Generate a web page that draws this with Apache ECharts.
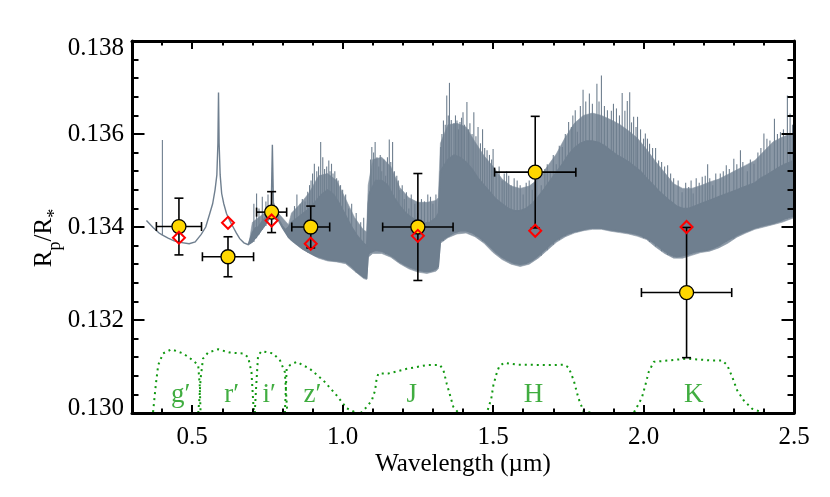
<!DOCTYPE html>
<html><head><meta charset="utf-8">
<script src="https://cdn.jsdelivr.net/npm/echarts@6/dist/echarts.min.js"></script>
<style>html,body{margin:0;padding:0;background:#fff}#c{width:830px;height:497px}</style>
</head><body><div id="c"></div>
<script>
// ---------- tick values ----------
const xMajorTicks = [0.5, 1.0, 1.5, 2.0, 2.5];
const yMajorTicks = [0.130, 0.132, 0.134, 0.136, 0.138];

// ---------- observed transit depths ----------
const obsX    = [0.456, 0.619, 0.764, 0.894, 1.250, 1.640, 2.143];
const obsY    = [0.13401, 0.13336, 0.13432, 0.13400, 0.13400, 0.13518, 0.13259];
const obsXErr = [0.075, 0.085, 0.050, 0.063, 0.117, 0.135, 0.150];
const obsYErr = [0.00061, 0.00043, 0.00044, 0.00045, 0.00115, 0.00120, 0.00140];
// ---------- band-averaged model ----------
const modelY  = [0.13377, 0.13409, 0.13414, 0.13364, 0.13381, 0.13392, 0.13400];

// ---------- model spectrum dense core: [wavelength, lower, upper] ----------
const specBand = [
 [0.348,0.13414,0.13414],[0.37,0.13399,0.13399],[0.39,0.13387,0.13387],[0.40,0.13383,0.13383],
 [0.42,0.13376,0.13376],[0.44,0.13370,0.13370],[0.46,0.13367,0.13367],[0.49,0.13364,0.13364],
 [0.51,0.13368,0.13368],[0.53,0.13384,0.13384],[0.545,0.13400,0.13400],[0.558,0.13428,0.13428],
 [0.568,0.13450,0.13450],[0.576,0.13480,0.13480],[0.582,0.13512,0.13512],[0.5855,0.13580,0.13580],
 [0.5875,0.13689,0.13689],[0.5895,0.13580,0.13580],[0.593,0.13512,0.13512],[0.598,0.13472,0.13472],
 [0.605,0.13450,0.13450],[0.614,0.13429,0.13429],[0.625,0.13413,0.13413],[0.636,0.13400,0.13400],
 [0.647,0.13387,0.13387],[0.658,0.13375,0.13375],[0.672,0.13366,0.13366],[0.686,0.13362,0.13362],
 [0.70,0.13368,0.13388],[0.71,0.13376,0.13398],[0.72,0.13384,0.13400],[0.73,0.13394,0.13410],
 [0.74,0.13402,0.13418],[0.75,0.13412,0.13426],[0.76,0.13425,0.13438],[0.763,0.13440,0.13452],
 [0.7665,0.13577,0.13577],[0.770,0.13445,0.13452],[0.78,0.13424,0.13430],[0.79,0.13410,0.13414],
 [0.80,0.13398,0.13402],[0.81,0.13388,0.13394],[0.82,0.13378,0.13400],[0.83,0.13372,0.13410],
 [0.85,0.13362,0.13420],[0.87,0.13352,0.13430],[0.89,0.13345,0.13440],[0.91,0.13338,0.13455],
 [0.93,0.13334,0.13470],[0.95,0.13330,0.13480],[0.97,0.13328,0.13470],[0.99,0.13327,0.13450],
 [1.01,0.13325,0.13425],[1.03,0.13315,0.13400],[1.05,0.13302,0.13380],[1.07,0.13292,0.13365],
 [1.08,0.13290,0.13360],[1.085,0.13340,0.13450],[1.09,0.13345,0.13475],[1.11,0.13350,0.13500],
 [1.13,0.13348,0.13500],[1.15,0.13342,0.13490],[1.17,0.13335,0.13465],[1.19,0.13325,0.13445],
 [1.21,0.13318,0.13430],[1.23,0.13312,0.13420],[1.25,0.13308,0.13412],[1.27,0.13305,0.13408],
 [1.29,0.13305,0.13410],[1.31,0.13310,0.13420],[1.318,0.13315,0.13430],[1.325,0.13370,0.13520],
 [1.35,0.13380,0.13545],[1.37,0.13388,0.13555],[1.39,0.13392,0.13550],[1.41,0.13392,0.13540],
 [1.43,0.13388,0.13525],[1.45,0.13380,0.13505],[1.47,0.13370,0.13490],[1.49,0.13358,0.13475],
 [1.51,0.13345,0.13460],[1.53,0.13335,0.13450],[1.55,0.13328,0.13440],[1.57,0.13322,0.13435],
 [1.59,0.13320,0.13435],[1.61,0.13322,0.13440],[1.63,0.13328,0.13450],[1.65,0.13338,0.13465],
 [1.67,0.13350,0.13482],[1.69,0.13362,0.13500],[1.71,0.13372,0.13518],[1.73,0.13380,0.13535],
 [1.75,0.13386,0.13555],[1.77,0.13390,0.13570],[1.79,0.13393,0.13580],[1.81,0.13396,0.13585],
 [1.83,0.13398,0.13585],[1.85,0.13398,0.13582],[1.87,0.13396,0.13575],[1.89,0.13394,0.13565],
 [1.91,0.13392,0.13555],[1.93,0.13390,0.13548],[1.95,0.13388,0.13540],[1.97,0.13386,0.13530],
 [1.99,0.13382,0.13520],[2.01,0.13376,0.13505],[2.03,0.13368,0.13492],[2.05,0.13358,0.13478],
 [2.07,0.13348,0.13466],[2.09,0.13340,0.13455],[2.11,0.13336,0.13445],[2.13,0.13338,0.13440],
 [2.15,0.13342,0.13440],[2.17,0.13346,0.13445],[2.19,0.13348,0.13450],[2.21,0.13350,0.13455],
 [2.23,0.13354,0.13460],[2.25,0.13360,0.13465],[2.27,0.13368,0.13470],[2.29,0.13375,0.13475],
 [2.31,0.13382,0.13480],[2.33,0.13388,0.13485],[2.35,0.13393,0.13490],[2.37,0.13398,0.13495],
 [2.39,0.13402,0.13505],[2.41,0.13405,0.13512],[2.43,0.13408,0.13520],[2.45,0.13412,0.13528],
 [2.47,0.13418,0.13535],[2.49,0.13422,0.13540],[2.50,0.13425,0.13545]
];
// ---------- fringe of thinner lines around the core: [wavelength, lower, upper] ----------
const specHaze = [
 [0.69,0.13365,0.13370],[0.70,0.13369,0.13410],[0.72,0.13383,0.13420],[0.74,0.13401,0.13430],
 [0.76,0.13425,0.13443],[0.763,0.13440,0.13450],[0.775,0.13435,0.13438],[0.82,0.13377,0.13405],
 [0.83,0.13370,0.13430],[0.86,0.13355,0.13450],[0.89,0.13343,0.13475],[0.92,0.13333,0.13510],
 [0.95,0.13327,0.13515],[0.98,0.13325,0.13500],[1.01,0.13321,0.13460],[1.04,0.13305,0.13420],
 [1.07,0.13289,0.13393],[1.08,0.13287,0.13390],[1.085,0.13335,0.13490],[1.10,0.13343,0.13545],
 [1.13,0.13343,0.13550],[1.16,0.13335,0.13530],[1.19,0.13321,0.13485],[1.22,0.13310,0.13463],
 [1.25,0.13303,0.13453],[1.28,0.13300,0.13453],[1.31,0.13305,0.13457],[1.318,0.13310,0.13463],
 [1.325,0.13365,0.13580],[1.35,0.13377,0.13620],[1.38,0.13385,0.13623],[1.41,0.13387,0.13615],
 [1.44,0.13379,0.13583],[1.47,0.13365,0.13553],[1.50,0.13345,0.13530],[1.53,0.13330,0.13503],
 [1.56,0.13320,0.13488],[1.59,0.13315,0.13483],[1.62,0.13320,0.13488],[1.65,0.13333,0.13503],
 [1.68,0.13350,0.13530],[1.71,0.13367,0.13557],[1.74,0.13379,0.13593],[1.77,0.13387,0.13623],
 [1.80,0.13392,0.13640],[1.83,0.13395,0.13645],[1.86,0.13395,0.13640],[1.89,0.13391,0.13631],
 [1.92,0.13388,0.13621],[1.95,0.13385,0.13607],[1.98,0.13380,0.13591],[2.01,0.13373,0.13567],
 [2.04,0.13357,0.13541],[2.07,0.13343,0.13517],[2.10,0.13333,0.13493],[2.13,0.13333,0.13483],
 [2.16,0.13339,0.13483],[2.19,0.13345,0.13489],[2.22,0.13348,0.13497],[2.25,0.13355,0.13503],
 [2.28,0.13365,0.13513],[2.31,0.13378,0.13523],[2.34,0.13387,0.13533],[2.37,0.13395,0.13543],
 [2.40,0.13400,0.13563],[2.43,0.13405,0.13583],[2.46,0.13410,0.13593],[2.50,0.13420,0.13603]
];
// ---------- individual spectral lines: [wavelength, peak] ----------
const specSpikes = [
 [0.401,0.13587],[0.705,0.13450],[0.714,0.13472],[0.722,0.13440],[0.733,0.13465],[0.745,0.13455],
 [0.752,0.13470],[0.840,0.13445],[0.848,0.13470],[0.859,0.13450],[0.866,0.13460],[0.875,0.13455],
 [0.884,0.13476],[0.890,0.13490],[0.895,0.13500],[0.900,0.13515],[0.906,0.13536],[0.914,0.13520],
 [0.920,0.13530],[0.927,0.13583],[0.934,0.13550],[0.940,0.13525],[0.947,0.13530],[0.954,0.13543],
 [0.958,0.13520],[0.963,0.13536],[0.968,0.13515],[0.974,0.13520],[0.980,0.13505],[0.985,0.13500],
 [0.993,0.13490],[1.000,0.13480],[1.010,0.13470],[1.020,0.13440],[1.030,0.13450],[1.045,0.13430],
 [1.060,0.13410],[1.070,0.13420],[1.088,0.13470],[1.093,0.13545],[1.097,0.13572],[1.103,0.13560],
 [1.108,0.13583],[1.114,0.13550],[1.120,0.13530],[1.125,0.13555],[1.130,0.13520],[1.137,0.13545],
 [1.143,0.13510],[1.149,0.13550],[1.155,0.13588],[1.160,0.13540],[1.166,0.13583],[1.172,0.13520],
 [1.180,0.13510],[1.185,0.13500],[1.190,0.13480],[1.198,0.13490],[1.205,0.13460],[1.212,0.13475],
 [1.220,0.13440],[1.228,0.13470],[1.240,0.13450],[1.250,0.13430],[1.262,0.13460],[1.272,0.13455],
 [1.283,0.13470],[1.292,0.13465],[1.300,0.13450],[1.310,0.13470],[1.326,0.13572],[1.330,0.13600],
 [1.335,0.13629],[1.341,0.13620],[1.346,0.13683],[1.351,0.13640],[1.355,0.13710],[1.361,0.13630],
 [1.370,0.13623],[1.375,0.13640],[1.380,0.13629],[1.385,0.13610],[1.390,0.13626],[1.395,0.13635],
 [1.400,0.13647],[1.405,0.13620],[1.413,0.13669],[1.418,0.13610],[1.423,0.13623],[1.430,0.13600],
 [1.436,0.13647],[1.443,0.13595],[1.450,0.13615],[1.458,0.13580],[1.465,0.13610],[1.472,0.13570],
 [1.480,0.13565],[1.488,0.13555],[1.495,0.13545],[1.500,0.13568],[1.510,0.13520],[1.520,0.13530],
 [1.530,0.13500],[1.537,0.13515],[1.545,0.13520],[1.552,0.13510],[1.560,0.13490],[1.570,0.13505],
 [1.580,0.13500],[1.590,0.13490],[1.600,0.13470],[1.610,0.13495],[1.620,0.13500],[1.630,0.13480],
 [1.645,0.13505],[1.660,0.13490],[1.672,0.13525],[1.680,0.13535],[1.690,0.13520],[1.700,0.13555],
 [1.710,0.13535],[1.720,0.13575],[1.730,0.13572],[1.740,0.13600],[1.751,0.13626],[1.760,0.13615],
 [1.765,0.13640],[1.773,0.13651],[1.780,0.13605],[1.790,0.13660],[1.799,0.13695],[1.808,0.13670],
 [1.820,0.13687],[1.830,0.13665],[1.845,0.13708],[1.852,0.13670],[1.860,0.13726],[1.870,0.13660],
 [1.880,0.13651],[1.893,0.13650],[1.900,0.13665],[1.910,0.13655],[1.920,0.13640],[1.929,0.13688],
 [1.938,0.13650],[1.946,0.13671],[1.954,0.13690],[1.960,0.13625],[1.967,0.13637],[1.975,0.13615],
 [1.980,0.13637],[1.990,0.13610],[2.000,0.13590],[2.006,0.13601],[2.013,0.13590],[2.020,0.13579],
 [2.030,0.13570],[2.040,0.13570],[2.050,0.13543],[2.060,0.13540],[2.070,0.13530],[2.080,0.13533],
 [2.090,0.13515],[2.100,0.13505],[2.115,0.13500],[2.128,0.13475],[2.140,0.13495],[2.150,0.13486],
 [2.158,0.13500],[2.165,0.13472],[2.175,0.13505],[2.185,0.13495],[2.195,0.13508],[2.205,0.13510],
 [2.213,0.13535],[2.220,0.13505],[2.230,0.13490],[2.240,0.13515],[2.255,0.13515],[2.265,0.13520],
 [2.275,0.13533],[2.285,0.13525],[2.300,0.13547],[2.310,0.13535],[2.322,0.13565],[2.330,0.13540],
 [2.345,0.13520],[2.355,0.13545],[2.367,0.13536],[2.380,0.13560],[2.390,0.13570],[2.400,0.13601],
 [2.410,0.13590],[2.420,0.13586],[2.435,0.13633],[2.445,0.13600],[2.455,0.13604],[2.465,0.13610],
 [2.478,0.13683],[2.487,0.13644],[2.495,0.13620]
];

// ---------- filter transmission curves (scaled): [wavelength, value] ----------
const filterG = [[0.370,0.13002],[0.379,0.13060],[0.387,0.13103],[0.403,0.13128],[0.431,0.13137],[0.470,0.13128],[0.503,0.13113],[0.520,0.13103],[0.525,0.13060],[0.528,0.13000]];
const filterR = [[0.520,0.13000],[0.524,0.13030],[0.528,0.13074],[0.536,0.13117],[0.553,0.13130],[0.586,0.13137],[0.625,0.13130],[0.669,0.13128],[0.686,0.13120],[0.697,0.13088],[0.705,0.13000]];
const filterI = [[0.708,0.13000],[0.712,0.13050],[0.719,0.13124],[0.731,0.13133],[0.769,0.13128],[0.792,0.13113],[0.808,0.13088],[0.816,0.13000]];
const filterZ = [[0.808,0.13000],[0.814,0.13095],[0.825,0.13103],[0.847,0.13110],[0.891,0.13095],[0.936,0.13070],[0.980,0.13038],[1.014,0.13010],[1.047,0.13000],[1.060,0.13000]];
const filterJ = [[1.060,0.13000],[1.080,0.13013],[1.097,0.13027],[1.108,0.13049],[1.113,0.13074],[1.119,0.13085],[1.152,0.13085],[1.213,0.13095],[1.280,0.13103],[1.324,0.13103],[1.335,0.13092],[1.346,0.13063],[1.357,0.13038],[1.368,0.13013],[1.385,0.13000],[1.450,0.13000]];
const filterH = [[1.450,0.13000],[1.479,0.13000],[1.494,0.13031],[1.501,0.13060],[1.513,0.13088],[1.521,0.13101],[1.537,0.13108],[1.579,0.13104],[1.690,0.13103],[1.734,0.13104],[1.751,0.13098],[1.768,0.13070],[1.784,0.13031],[1.801,0.13003],[1.834,0.13000],[1.950,0.13000]];
const filterK = [[1.950,0.13000],[1.967,0.13000],[1.984,0.13020],[1.995,0.13034],[2.006,0.13060],[2.017,0.13088],[2.034,0.13110],[2.067,0.13112],[2.145,0.13117],[2.223,0.13113],[2.261,0.13113],[2.278,0.13103],[2.295,0.13077],[2.311,0.13049],[2.333,0.13027],[2.361,0.13009],[2.400,0.13000],[2.500,0.13000]];
const filterNames  = ['g\u2032', 'r\u2032', 'i\u2032', 'z\u2032', 'J', 'H', 'K'];
const filterLabelX = [0.462, 0.631, 0.756, 0.900, 1.230, 1.634, 2.167];
const filterLabelY = [0.13039, 0.13039, 0.13039, 0.13039, 0.13039, 0.13039, 0.13039];

// ---------- styling ----------
const FONT = 'Liberation Serif';
const SPEC = '#6f7f8f';
const HAZE = '#8a97a5';
const GREEN = '#109810';
const AX = { color: '#000', width: 3 };

const chart = echarts.init(document.getElementById('c'), null, { renderer: 'canvas' });

function xAxisCfg(pos, major) {
  const base = {
    type: 'value', min: 0.3, max: 2.5, position: pos, gridIndex: 0, z: 10,
    splitLine: { show: false }, minorSplitLine: { show: false }
  };
  if (major) {
    return Object.assign(base, {
      axisLine: { show: true, onZero: false, lineStyle: AX },
      axisTick: { show: true, inside: true, length: 8, lineStyle: { color: '#000', width: 2 }, customValues: xMajorTicks },
      axisLabel: pos === 'bottom'
        ? { show: true, customValues: xMajorTicks, formatter: v => v.toFixed(1), fontFamily: FONT, fontSize: 25, color: '#000', margin: 12 }
        : { show: false },
      name: pos === 'bottom' ? 'Wavelength (\u00b5m)' : '',
      nameLocation: 'middle', nameGap: 39, nameMoveOverlap: false,
      nameTextStyle: { fontFamily: FONT, fontSize: 25, color: '#000' }
    });
  }
  return Object.assign(base, {
    interval: 0.1,
    axisLine: { show: false, onZero: false },
    axisTick: { show: true, inside: true, length: 4.5, lineStyle: { color: '#000', width: 2 } },
    axisLabel: { show: false }
  });
}
function yAxisCfg(pos) {
  const left = pos === 'left';
  return {
    type: 'value', min: 0.130, max: 0.138, interval: 0.002, position: pos, z: 10,
    splitLine: { show: false }, minorSplitLine: { show: false },
    axisLine: { show: true, onZero: false, lineStyle: AX },
    axisTick: { show: true, inside: true, length: 12.5, lineStyle: { color: '#000', width: 2 } },
    minorTick: { show: true, splitNumber: 5, length: 6.5, lineStyle: { color: '#000', width: 2 } },
    axisLabel: left ? {
      show: true, margin: 8, fontFamily: FONT, fontSize: 25, color: '#000',
      formatter: v => {
        const s = v.toFixed(3);
        if (Math.abs(v - yMajorTicks[4]) < 1e-9) return '{t|' + s + '}';
        if (Math.abs(v - yMajorTicks[0]) < 1e-9) return '{b|' + s + '}';
        return s;
      },
      rich: {
        t: { fontFamily: FONT, fontSize: 25, color: '#000', padding: [15, 0, 0, 0] },
        b: { fontFamily: FONT, fontSize: 25, color: '#000', padding: [0, 0, 10, 0] }
      }
    } : { show: false },
    name: left ? '{m|R}{s|p}{m|/R}{s|*}' : '',
    nameLocation: 'middle', nameRotate: 90, nameGap: 68, nameMoveOverlap: false,
    nameTextStyle: {
      padding: [0, 22, 0, 0],
      rich: {
        m: { fontFamily: FONT, fontSize: 25, color: '#000', lineHeight: 32, verticalAlign: 'top' },
        s: { fontFamily: FONT, fontSize: 18, color: '#000', lineHeight: 18, verticalAlign: 'bottom' }
      }
    }
  };
}

function filterSeries(data) {
  return {
    type: 'line', data: data, xAxisIndex: 0, yAxisIndex: 0, z: 2, silent: true,
    showSymbol: false, symbol: 'none', clip: true,
    lineStyle: { color: GREEN, width: 2, type: [2, 4] }
  };
}
function bandSeries(rows, color, lw) {
  return {
    type: 'custom', xAxisIndex: 0, yAxisIndex: 0, z: 1, silent: true, clip: true,
    data: [[rows[0][0], rows[0][1]]],
    renderItem: function (params, api) {
      const upper = rows.map(r => api.coord([r[0], r[2]]));
      const lower = rows.map(r => api.coord([r[0], r[1]])).reverse();
      return { type: 'polygon', shape: { points: upper.concat(lower) },
               style: { fill: color, stroke: color, lineWidth: lw } };
    }
  };
}

const option = {
  animation: false,
  backgroundColor: '#fff',
  grid: { left: 132, right: 36, top: 41, bottom: 84, containLabel: false },
  xAxis: [xAxisCfg('bottom', true), xAxisCfg('bottom', false), xAxisCfg('top', true), xAxisCfg('top', false)],
  yAxis: [yAxisCfg('left'), yAxisCfg('right')],
  series: [
    bandSeries(specHaze, HAZE, 0.6),
    { // individual lines
      type: 'custom', xAxisIndex: 0, yAxisIndex: 0, z: 1, silent: true, clip: true,
      data: specSpikes,
      renderItem: function (params, api) {
        const x = api.value(0), top = api.value(1);
        let j = 0, best = Infinity;
        for (let i = 0; i < specBand.length; i++) {
          const d = Math.abs(specBand[i][0] - x);
          if (d < best) { best = d; j = i; }
        }
        const p1 = api.coord([x, top]);
        const p2 = api.coord([x, specBand[j][1]]);
        return { type: 'line', shape: { x1: p1[0], y1: p1[1], x2: p2[0], y2: p2[1] },
                 style: { stroke: SPEC, lineWidth: 1.1 } };
      }
    },
    bandSeries(specBand, SPEC, 1.4),
    filterSeries(filterG), filterSeries(filterR), filterSeries(filterI), filterSeries(filterZ),
    filterSeries(filterJ), filterSeries(filterH), filterSeries(filterK),
    { // filter labels
      type: 'scatter', xAxisIndex: 0, yAxisIndex: 0, z: 3, silent: true,
      data: filterLabelX.map((x, i) => [x, filterLabelY[i]]),
      symbolSize: 1, itemStyle: { color: 'rgba(0,0,0,0)' },
      label: { show: true, position: 'inside', formatter: p => filterNames[p.dataIndex],
               fontFamily: FONT, fontSize: 27, color: GREEN }
    },
    { // error bars
      type: 'custom', xAxisIndex: 0, yAxisIndex: 0, z: 4, silent: true, clip: true,
      data: obsX.map((x, i) => [x, obsY[i], obsXErr[i], obsYErr[i]]),
      encode: { x: 0, y: 1 },
      renderItem: function (params, api) {
        const x = api.value(0), y = api.value(1), xe = api.value(2), ye = api.value(3);
        const c = api.coord([x, y]);
        const l = api.coord([x - xe, y]), r = api.coord([x + xe, y]);
        const t = api.coord([x, y + ye]), b = api.coord([x, y - ye]);
        const cap = 4.5;
        const st = { stroke: '#000', lineWidth: 1.6 };
        const ln = (x1, y1, x2, y2) => ({ type: 'line', shape: { x1, y1, x2, y2 }, style: st });
        return { type: 'group', children: [
          ln(l[0], c[1], r[0], c[1]), ln(c[0], t[1], c[0], b[1]),
          ln(c[0] - cap, t[1], c[0] + cap, t[1]), ln(c[0] - cap, b[1], c[0] + cap, b[1]),
          ln(l[0], c[1] - cap, l[0], c[1] + cap), ln(r[0], c[1] - cap, r[0], c[1] + cap)
        ] };
      }
    },
    { // observed points
      type: 'scatter', xAxisIndex: 0, yAxisIndex: 0, z: 5, silent: true,
      data: obsX.map((x, i) => [x, obsY[i]]),
      symbol: 'circle', symbolSize: 14,
      itemStyle: { color: '#FFD700', borderColor: '#000', borderWidth: 1.3, opacity: 1 }
    },
    { // model band-averaged values
      type: 'scatter', xAxisIndex: 0, yAxisIndex: 0, z: 6, silent: true,
      data: obsX.map((x, i) => [x, modelY[i]]),
      symbol: 'diamond', symbolSize: 12,
      itemStyle: { color: 'rgba(255,255,255,0)', borderColor: '#ff0000', borderWidth: 2, opacity: 1 }
    }
  ]
};
chart.setOption(option);
</script></body></html>
